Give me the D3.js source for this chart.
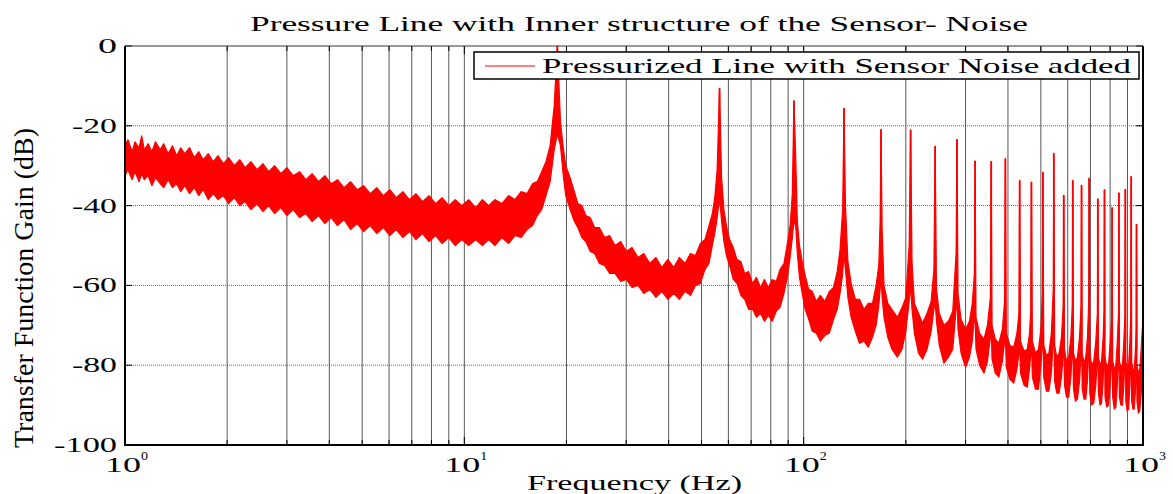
<!DOCTYPE html>
<meta charset="utf-8">
<style>
 body { margin: 0; background: #fff; }
 text { font-family: "Liberation Serif", "Times New Roman", serif; fill: #000; }
</style>
<body>
<script src="https://d3js.org/d3.v7.min.js"></script>
<script>

var width = 1173
var height = 494

// noise band: frequency (Hz), upper and lower edge (dB)
var bandFreq = [
  1.00, 1.02, 1.05, 1.07, 1.10, 1.12, 1.14, 1.17, 1.20, 1.23, 1.27, 1.30, 1.34, 1.38, 1.42, 1.46, 1.50, 1.55, 1.60, 1.65, 1.70, 1.76, 1.82, 1.88, 1.95,
  2.02, 2.10, 2.18, 2.26, 2.35, 2.45, 2.55, 2.65, 2.76, 2.88, 3.00, 3.13, 3.27, 3.41, 3.56, 3.72, 3.88,
  4.05, 4.23, 4.42, 4.62, 4.83, 5.05, 5.28, 5.52, 5.77, 6.03, 6.30, 6.59, 6.89, 7.20, 7.53, 7.87,
  8.23, 8.60, 9.00, 9.40, 9.83, 10.3, 10.8, 11.3, 11.8, 12.3, 12.9, 13.5, 14.1, 14.7, 15.3, 15.9, 16.4, 16.9, 17.4, 17.9, 18.4,
  19.2, 19.6, 19.9, 20.5, 21.1, 21.6, 22.2, 22.8, 23.5, 24.2, 25.0, 25.9, 26.8, 27.8, 28.9, 30.0, 31.2, 32.5, 33.8, 35.2, 36.7, 38.2, 39.8, 41.4, 43.0, 44.7, 46.4, 48.0, 49.6, 51.2, 52.6, 53.8, 54.7, 55.6,
  57.3, 58.2, 59.2, 60.5, 62.0, 63.6, 65.3, 67.0, 68.8, 70.7, 72.6, 74.6, 76.6, 78.7, 80.8, 83.0, 85.2, 87.5, 89.5, 91.2, 92.6,
  94.7, 95.8, 97.2, 99.0, 101, 103.5, 106, 109, 112, 115.5, 119, 122.5, 125.6, 128, 130.3,
  132.8, 135, 138, 142, 146, 150.6, 155, 159.5, 163.5, 166.5, 168,
  170.3, 172.5, 177, 182, 188.8, 195, 200, 204.6,
  208.6, 212, 218, 224, 231, 237.5, 242,
  246.3, 251, 259, 267, 275, 281.3,
  285, 291, 300, 308, 314, 318.5,
  322, 330, 340, 348, 355,
  359, 367, 376, 385, 391,
  395.5, 405, 416, 425, 431,
  435.5, 446, 456, 463, 467,
  472, 482, 492, 500, 505,
  510, 519, 528, 537, 544,
  549, 557, 566, 575, 582,
  587, 595, 604, 613, 619,
  624, 632, 641, 650, 657,
  662, 670, 678, 686, 692,
  697, 706, 716, 726, 734,
  739, 747, 755, 763, 768,
  773, 782, 792, 801, 809,
  814, 823, 832, 840, 847,
  852, 861, 870, 878, 885,
  890, 898, 907, 915, 921,
  926, 934, 942, 949, 955,
  960, 969, 978, 986, 992, 997]
var bandHigh = [
  -25, -23.5, -26.5, -24, -25.5, -22.5, -26, -24.5, -26.5, -24, -26, -24.5, -27, -25, -27.5, -25.5, -27, -25.5, -28, -26.5, -28.5, -27, -29, -27.5, -29.5,
  -28, -30, -28.5, -30.5, -29, -31, -29.5, -31.5, -30, -32, -30.5, -32.5, -31.5, -33.5, -32, -34, -32.5,
  -34.5, -33.5, -35.5, -34, -36, -35, -37, -35.5, -37.5, -36, -38, -36.5, -38.5, -37, -39, -37.5,
  -39.5, -38, -40, -38.5, -40, -38.5, -40.5, -38.5, -40, -38.5, -39.5, -37.5, -38.5, -36.5, -37, -34.5, -34, -31.5, -29, -25, -15,
  -19, -26, -30, -33, -36.5, -39.5, -40, -42.5, -43, -45.5, -45.5, -48, -47.5, -50, -49, -51.5, -50.5, -53, -52, -54.5, -53, -55.5, -53.5, -55.5, -53, -54.5, -52, -52.5, -49.5, -48.5, -45, -42, -38, -31,
  -33, -41, -45, -48.5, -50.5, -53.5, -54, -57, -56.5, -59.5, -58, -60.5, -58.5, -60.5, -58.5, -59, -56, -54.5, -49.5, -45, -37,
  -27, -44, -50, -54, -57.5, -61, -61.5, -64, -62.5, -64, -61.5, -60.5, -56.5, -51, -41,
  -40, -54, -59.5, -63.5, -63.5, -66, -64.5, -64.5, -60, -55, -44,
  -46, -60, -64.5, -66, -68, -65.5, -63, -50,
  -54, -64.5, -67, -69.5, -67, -64, -56,
  -61, -67, -70, -69, -66.5, -52,
  -62, -68.5, -71, -69, -64.5, -57,
  -68, -72, -73.5, -70, -63,
  -70, -73.5, -74.5, -71, -64,
  -72, -75, -75.5, -72, -67,
  -74, -76.5, -76, -72, -66,
  -74, -77, -76, -71, -62,
  -75, -77.5, -77, -72, -61,
  -75, -78, -77, -73, -65,
  -76, -79, -78, -73, -65,
  -77, -79, -78, -73, -65,
  -77, -79.5, -78, -73, -64,
  -77, -80, -79, -74, -67,
  -78, -80, -79, -73, -66,
  -78, -80.5, -79.5, -74, -68,
  -79, -81, -80, -74, -67,
  -79, -80.5, -80, -74, -67,
  -79, -81, -80, -74, -67,
  -79, -81.5, -81, -77, -71,
  -80, -82, -81, -77, -73, -70]
var bandLow = [
  -32.5, -31, -33.5, -31.5, -34, -32, -33.5, -32.5, -35, -33, -34.5, -35.5, -33.5, -35.5, -34.5, -36.5, -35, -37, -35.5, -37.5, -36, -38.5, -37, -38.5, -37.5,
  -39.5, -38, -40, -39, -41, -39.5, -41.5, -40, -42, -40.5, -42.5, -41, -43, -42, -44, -42.5, -44.5,
  -43, -45, -43.5, -46, -44.5, -46.5, -45, -47, -45.5, -47.5, -46, -48, -46.5, -48.5, -47, -49,
  -47.5, -49.5, -48, -50, -48.5, -50, -48.5, -50, -48.5, -50, -48, -49.5, -47.5, -48, -46, -45, -42.5, -41, -37.5, -34, -26,
  -25, -33, -37.5, -41, -44, -45.5, -48, -49, -51.5, -52, -54.5, -55, -57, -57, -59, -58.5, -60.5, -60, -62, -61, -63, -61.5, -63.5, -62, -63.5, -61.5, -62.5, -60, -59.5, -56, -54.5, -50, -47, -43,
  -44, -49, -52.5, -55, -58.5, -59.5, -62.5, -63.5, -66, -66, -68, -67, -69, -67.5, -69, -66.5, -65.5, -62, -58, -53, -48,
  -45, -52, -58, -62, -66, -68.5, -71.5, -72, -74, -72.5, -72, -68.5, -66, -62, -57,
  -56, -63, -68, -71.5, -74.5, -74, -75.5, -73, -70, -65, -61,
  -63, -68, -73, -76, -78, -76, -71.5, -64,
  -66, -72, -77, -78.5, -76, -71.5, -66,
  -69, -75, -79.5, -78, -76, -66,
  -71, -77, -80.5, -78, -74, -68,
  -76, -80, -82, -79, -73,
  -78.5, -82, -83, -79, -74,
  -80.5, -83.5, -84.5, -81, -77,
  -82, -85, -85.5, -81, -77,
  -83, -86, -86, -80, -75,
  -83, -86.5, -86.5, -82, -74,
  -84, -87, -87, -83, -77,
  -85, -88, -88, -83, -76,
  -86, -89, -88.5, -84, -77,
  -86, -88.5, -88.5, -84, -76,
  -87, -90, -89.5, -85, -78,
  -87, -90, -89.5, -84, -77,
  -88, -90.5, -90, -85, -78,
  -88, -91, -90.5, -85, -77,
  -88, -90, -90, -85, -78,
  -89, -91.5, -91, -85, -77,
  -89, -91, -91, -87, -80,
  -89, -92, -91.5, -88, -85, -86]

// resonance spikes: frequency (Hz), top (dB), band level under the spike (dB)
var peakFreq = [18.8, 56.5, 93.6, 131.5, 169, 206.6, 244, 283, 320, 357, 393, 433, 469, 507, 546,
  584, 621, 659, 694, 736, 770, 811, 849, 887, 923, 957, 1000]
var peakTop = [0, -10.6, -13.7, -15.6, -20.9, -21, -25.1, -23.4, -28.8, -28.9, -28.2, -33.7, -34.1, -31.6, -26.9,
  -37.4, -33.7, -34.9, -33.1, -38.3, -36.0, -40.5, -36.8, -35.9, -32.7, -44.7, -42.4]
var peakFoot = [-22, -38, -44, -52, -58, -60, -64, -62, -68, -70, -72, -74, -73, -70, -68,
  -72, -72, -72, -71, -74, -73, -75, -74, -74, -73, -76, -80]

var yTicks = [0, -20, -40, -60, -80, -100]
var yTickText = ["0", "-20", "-40", "-60", "-80", "-100"]
var xDecades = [1, 10, 100, 1000]
var xDecadeExp = ["0", "1", "2", "3"]

var pLeft = 125, pRight = 1143, pTop = 46, pBottom = 445

var x = d3.scaleLog().domain([1, 1000]).range([pLeft, pRight])
var y = d3.scaleLinear().domain([-100, 0]).range([pBottom, pTop])

var svg = d3.select("body")
      .append("svg")
      .attr("width", width)
      .attr("height", height)

// merged rows for the trace
var rows = bandFreq.map(function (f, i) { return {f: f, lo: bandLow[i], hi: bandHigh[i]} })
peakFreq.forEach(function (f, i) { rows.push({f: f, lo: peakFoot[i], hi: peakTop[i]}) })
rows.sort(function (a, b) { return a.f - b.f })

svg.append("clipPath").attr("id", "plotclip")
  .append("rect").attr("x", pLeft).attr("y", pTop - 1).attr("width", pRight - pLeft).attr("height", pBottom - pTop + 1)

// grid
var minor = x.ticks().filter(function (d) { return d > 1 && d < 1000 })
svg.append("g").selectAll("line")
  .data(minor).enter().append("line")
    .attr("x1", function (d) { return x(d) }).attr("x2", function (d) { return x(d) })
    .attr("y1", pTop).attr("y2", pBottom)
    .attr("stroke", "#585858").attr("stroke-width", 1)

svg.append("g").selectAll("line")
  .data(yTicks.slice(1, 5)).enter().append("line")
    .attr("x1", pLeft).attr("x2", pRight)
    .attr("y1", function (d) { return y(d) }).attr("y2", function (d) { return y(d) })
    .attr("stroke", "#666").attr("stroke-width", 1).attr("stroke-dasharray", "1,1")

// trace
var area = d3.area()
  .x(function (d) { return x(d.f) })
  .y0(function (d) { return y(d.lo) })
  .y1(function (d) { return y(d.hi) })

var plot = svg.append("g").attr("clip-path", "url(#plotclip)")
plot.append("path")
  .datum(rows)
  .attr("d", area)
  .attr("fill", "#ff0000")
  .attr("stroke", "#ff0000")
  .attr("stroke-width", 1.2)
  .attr("stroke-linejoin", "round")

plot.selectAll(".spike")
  .data(peakFreq).enter().append("line")
    .attr("class", "spike")
    .attr("x1", function (d) { return x(d) }).attr("x2", function (d) { return x(d) })
    .attr("y1", function (d, i) { return y(peakFoot[i]) })
    .attr("y2", function (d, i) { return y(peakTop[i]) })
    .attr("stroke", "#ff0000").attr("stroke-width", 1.8)

// ticks inside the box
var tk = svg.append("g").attr("stroke", "#000").attr("stroke-width", 1)
x.ticks().forEach(function (d) {
  var len = xDecades.indexOf(d) >= 0 ? 8 : 5
  tk.append("line").attr("x1", x(d)).attr("x2", x(d)).attr("y1", pBottom).attr("y2", pBottom - len)
  tk.append("line").attr("x1", x(d)).attr("x2", x(d)).attr("y1", pTop).attr("y2", pTop + len)
})
yTicks.forEach(function (d) {
  tk.append("line").attr("x1", pLeft).attr("x2", pLeft + 7).attr("y1", y(d)).attr("y2", y(d))
  tk.append("line").attr("x1", pRight).attr("x2", pRight - 7).attr("y1", y(d)).attr("y2", y(d))
})

// box
svg.append("line").attr("x1", pLeft).attr("x2", pRight).attr("y1", pTop).attr("y2", pTop)
  .attr("stroke", "#333").attr("stroke-width", 1)
svg.append("path")
  .attr("d", "M" + pLeft + "," + pTop + "V" + pBottom + "H" + pRight + "V" + pTop)
  .attr("fill", "none").attr("stroke", "#000").attr("stroke-width", 2)

// y tick labels
var yLen = {1: 19, 3: 45, 4: 63}
svg.append("g").selectAll("text")
  .data(yTicks).enter().append("text")
    .attr("x", 117)
    .attr("y", function (d) { return y(d) + 7 })
    .attr("text-anchor", "end")
    .attr("font-size", 21)
    .attr("textLength", function (d, i) { return yLen[yTickText[i].length] })
    .attr("lengthAdjust", "spacingAndGlyphs")
    .text(function (d, i) { return yTickText[i] })

// x tick labels, 10 with exponent
xDecades.forEach(function (d, i) {
  svg.append("text")
    .attr("x", x(d) - 20).attr("y", 472)
    .attr("font-size", 21)
    .attr("textLength", 36).attr("lengthAdjust", "spacingAndGlyphs")
    .text("10")
  svg.append("text")
    .attr("x", x(d) + 16).attr("y", 460)
    .attr("font-size", 13)
    .attr("textLength", 7).attr("lengthAdjust", "spacingAndGlyphs")
    .text(xDecadeExp[i])
})

// titles
svg.append("text")
  .attr("x", 250).attr("y", 31)
  .attr("font-size", 20)
  .attr("textLength", 778).attr("lengthAdjust", "spacingAndGlyphs")
  .text("Pressure Line with Inner structure of the Sensor- Noise")

svg.append("text")
  .attr("x", 527).attr("y", 490)
  .attr("font-size", 21)
  .attr("textLength", 215).attr("lengthAdjust", "spacingAndGlyphs")
  .text("Frequency (Hz)")

svg.append("text")
  .attr("transform", "translate(33,288) rotate(-90)")
  .attr("text-anchor", "middle")
  .attr("font-size", 27.5)
  .attr("textLength", 320).attr("lengthAdjust", "spacingAndGlyphs")
  .text("Transfer Function Gain (dB)")

// legend
var lg = svg.append("g")
lg.append("rect")
  .attr("x", 474).attr("y", 52).attr("width", 665).attr("height", 27)
  .attr("fill", "#fff").attr("stroke", "#000").attr("stroke-width", 1.5)
lg.append("line")
  .attr("x1", 485).attr("x2", 535).attr("y1", 66).attr("y2", 66)
  .attr("stroke", "#ff0000").attr("stroke-width", 1)
lg.append("text")
  .attr("x", 542).attr("y", 73)
  .attr("font-size", 21.5)
  .attr("textLength", 589).attr("lengthAdjust", "spacingAndGlyphs")
  .text("Pressurized Line with Sensor Noise added")

</script>
</body>
